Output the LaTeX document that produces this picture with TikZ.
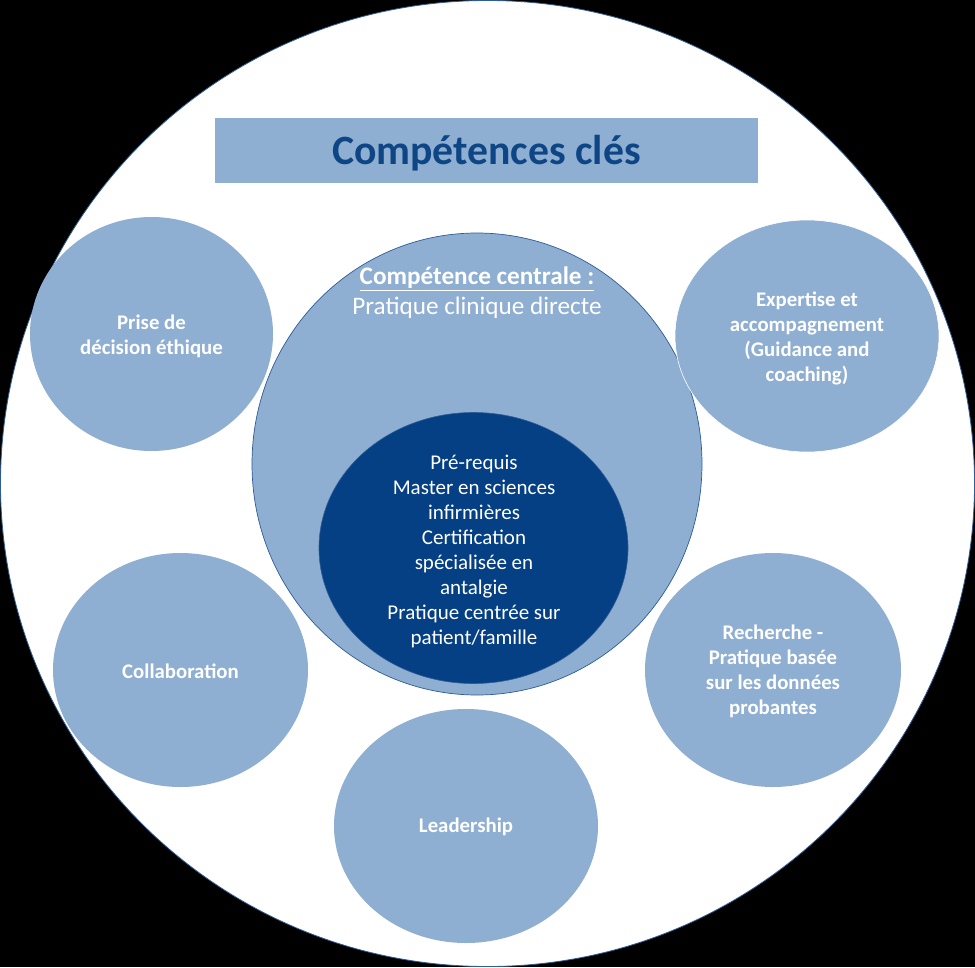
\documentclass[tikz,border=0pt]{standalone}
\usepackage{fontspec}
\setmainfont{Carlito}
\usepackage{xcolor}
\usetikzlibrary{shapes.geometric}
\definecolor{pale}{HTML}{8EAED2}
\definecolor{deep}{HTML}{053F84}
\definecolor{navy}{HTML}{0E4584}
\definecolor{rim}{HTML}{2E5C96}
\tikzset{
  disc/.style={ellipse, draw=rim, line width=0.8pt, fill=white, inner sep=0pt},
  bubble/.style={ellipse, fill=pale, inner sep=0pt, text=white, align=center,
    font=\fontsize{20.8}{25}\selectfont\bfseries},
  core/.style={ellipse, draw=rim, line width=0.7pt, fill=pale, inner sep=0pt},
  prereq/.style={ellipse, draw=rim, line width=0.6pt, fill=deep, inner sep=0pt,
    text=white, align=center, font=\fontsize{21}{25}\selectfont},
  banner/.style={rectangle, fill=pale, inner sep=0pt, text=navy,
    font=\fontsize{41.7}{48}\selectfont\bfseries},
  corelab/.style={text=white, align=center, font=\fontsize{25.2}{30}\selectfont},
}
\begin{document}
\begin{tikzpicture}[x=1pt,y=-1pt]
  \fill[black] (0,0) rectangle (975,967);
  \useasboundingbox (0,0) rectangle (975,967);

  % outer white disc
  \node[disc, minimum width=974pt, minimum height=966pt] (outer) at (487.5,483.5) {};

  % title
  \node[banner, minimum width=543pt, minimum height=65pt] (title) at (486.5,150.5) {};
  \node[text=navy, font=\fontsize{41.7}{48}\selectfont\bfseries] (titletext) at (486.5,153) {Compétences clés};

  % satellite competencies under the core
  \node[bubble, minimum width=243pt, minimum height=234pt] (ethics) at (151.5,334) {};
  \node[bubble, minimum width=255pt, minimum height=234pt] (collab) at (180.5,670) {};
  \node[bubble, minimum width=256pt, minimum height=234pt] (research) at (773,670) {};
  \node[bubble, minimum width=264pt, minimum height=234pt] (leader) at (466,826) {};

  % central competency
  \node[core, minimum width=450pt, minimum height=462pt] (core) at (477,464) {};

  % this one lies over the core
  \node[bubble, draw=white, line width=0.6pt, minimum width=264pt, minimum height=232pt] (coaching) at (807,336) {};

  \node[bubble, fill=none] at ([yshift=-2pt]ethics) {Prise de\\décision éthique};
  \node[bubble, fill=none] at ([yshift=-2pt]coaching) {Expertise et\\accompagnement\\(Guidance and\\coaching)};
  \node[bubble, fill=none] at ([yshift=-1pt]collab) {Collaboration};
  \node[bubble, fill=none] at ([yshift=-1pt]research) {Recherche -\\Pratique basée\\sur les données\\probantes};
  \node[bubble, fill=none] at ([yshift=-1pt]leader) {Leadership};

  \node[corelab] (corename) at (477,293) {\textbf{\underline{Compétence centrale :}}\\Pratique clinique directe};

  % prerequisites
  \node[prereq, minimum width=309pt, minimum height=271pt] (prereq) at (473.5,548) {};
  \node[prereq, draw=none, fill=none] (prereqtext) at (474,551)
    {Pré-requis\\Master en sciences\\infirmières\\Certification\\spécialisée en\\antalgie\\Pratique centrée sur\\patient/famille};
\end{tikzpicture}
\end{document}
